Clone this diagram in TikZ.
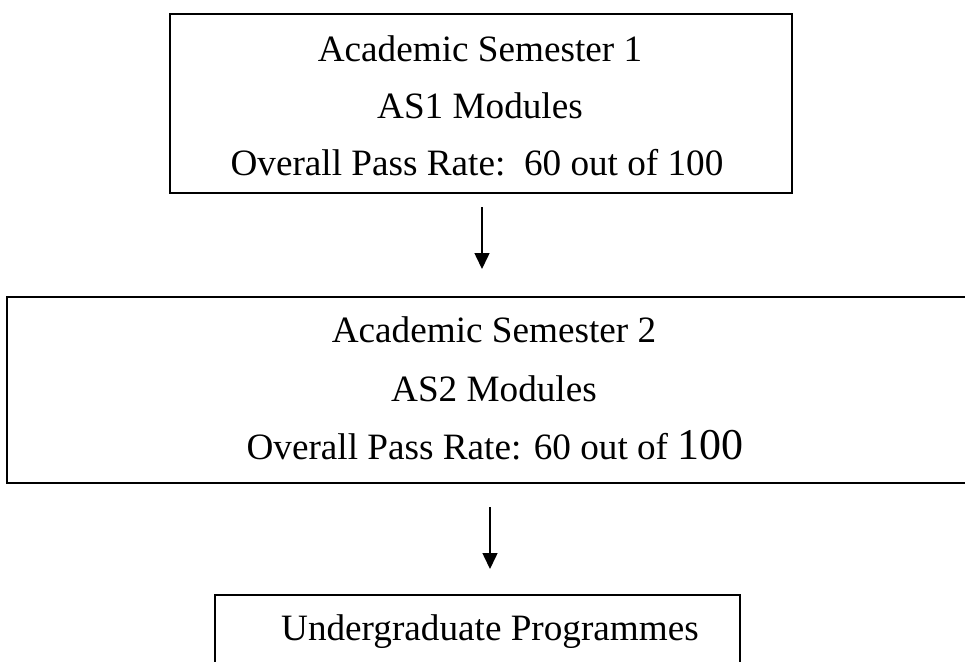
\documentclass[tikz,border=0pt]{standalone}
\usepackage{fontspec}
\setmainfont{Liberation Serif}
\usetikzlibrary{arrows.meta}
\begin{document}
\begin{tikzpicture}[x=0.5pt,y=-0.5pt,
  stagebox/.style={draw=black,line width=1pt,rectangle,inner sep=0pt},
  label/.style={anchor=base,inner sep=0pt,font=\fontsize{18.6pt}{22pt}\selectfont},
  flow/.style={line width=0.75pt,-{Triangle[length=8pt,width=7.5pt]}}]
\useasboundingbox (0,0) rectangle (965,661);
\clip (0,0) rectangle (965,661);
% boxes
\node[stagebox,minimum width=311pt,minimum height=89.5pt] (b1) at (481,103.5) {};
\node[stagebox,minimum width=487.5pt,minimum height=93pt] (b2) at (494.5,390) {};
\node[stagebox,minimum width=262.5pt,minimum height=60pt] (b3) at (477.5,655) {};
% texts
\node[label] (t11) at (480,61) {Academic Semester 1};
\node[label] (t12) at (480,118) {AS1 Modules};
\node[label] (t13) at (477,175) {Overall Pass Rate:\ \ 60 out of 100};
\node[label] (t21) at (494,342) {Academic Semester 2};
\node[label] (t22) at (494,401) {AS2 Modules};
\node[label] (t23) at (495,459) {Overall Pass Rate: 60 out of {\fontsize{22pt}{26pt}\selectfont 100}};
\node[label] (t31) at (490,640) {Undergraduate Programmes};
% arrows
\coordinate (a1s) at (482,207);
\coordinate (a1e) at (482,269);
\coordinate (a2s) at (490,507);
\coordinate (a2e) at (490,569);
\draw[flow] (a1s) -- (a1e);
\draw[flow] (a2s) -- (a2e);
\end{tikzpicture}
\end{document}
